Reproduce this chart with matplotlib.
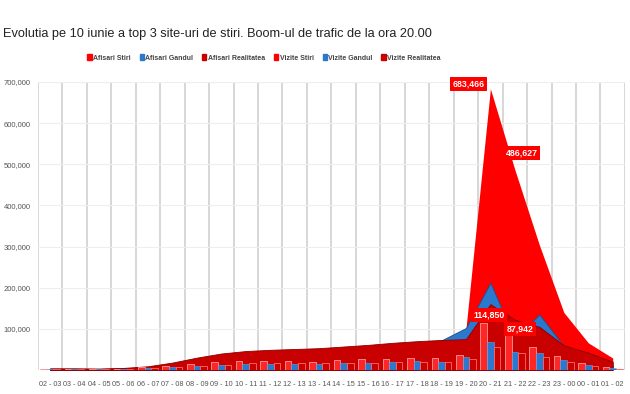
import matplotlib
matplotlib.use("Agg")
from matplotlib import pyplot as plt
from matplotlib.patches import Patch
import numpy as np

plt.rcParams['font.family'] = ['Liberation Sans', 'DejaVu Sans']

hours = ['02 - 03', '03 - 04', '04 - 05', '05 - 06', '06 - 07', '07 - 08', '08 - 09', '09 - 10',
         '10 - 11', '11 - 12', '12 - 13', '13 - 14', '14 - 15', '15 - 16', '16 - 17', '17 - 18',
         '18 - 19', '19 - 20', '20 - 21', '21 - 22', '22 - 23', '23 - 00', '00 - 01', '01 - 02']

# area series (afisari)
afisari_stiri = [3000, 3000, 2500, 4500, 8000, 16000, 27000, 37000, 43000, 46000, 48000, 50000,
                 54000, 58000, 62000, 66000, 70000, 100000, 683466, 486627, 304000, 140000, 66000, 29000]
afisari_gandul = [3000, 3000, 2500, 4000, 7000, 14000, 24000, 33000, 39000, 42000, 44000, 46000,
                  50000, 54000, 60000, 66000, 72000, 102000, 212000, 75000, 135000, 58000, 32000, 12000]
afisari_realitatea = [4000, 4000, 3500, 5000, 9000, 18000, 30000, 40000, 46000, 49000, 51000, 53000,
                      57000, 61000, 66000, 70000, 73000, 75000, 160000, 122000, 105000, 60000, 42000, 20000]

# bar series (vizite)
vizite_stiri = [3000, 2000, 2000, 3000, 6000, 9000, 15000, 19000, 21000, 23000, 23000, 20000,
                25000, 26000, 27000, 29000, 29000, 36000, 114850, 87942, 56000, 34000, 17000, 7000]
vizite_gandul = [2000, 2000, 2000, 3000, 5000, 7000, 10000, 13000, 15000, 15000, 14000, 15000,
                 17000, 18000, 19000, 21000, 20000, 32000, 68000, 44000, 41000, 24000, 12000, 5000]
vizite_realitatea = [2000, 2000, 2000, 2000, 4000, 7000, 10000, 13000, 16000, 17000, 17000, 18000,
                     18000, 18000, 19000, 20000, 20000, 27000, 56000, 41000, 32000, 19000, 10000, 3000]

red = '#ff0000'
blue = '#2b78cf'
dark = '#c80000'

fig = plt.figure(figsize=(6.3, 3.94), dpi=100)
ax = fig.add_axes([0.060, 0.061, 0.932, 0.731])

x = np.arange(len(hours))
ax.fill_between(x, 0, afisari_stiri, color=red, lw=0, zorder=2)
ax.fill_between(x, 0, afisari_gandul, facecolor=blue, edgecolor='#1f4f8a', lw=0.6, zorder=3)
ax.fill_between(x, 0, afisari_realitatea, facecolor=dark, edgecolor='#8a0000', lw=0.6, zorder=4)

w = 0.27
ax.bar(x - w, vizite_stiri, w, color='#ff2626', edgecolor='#ff9a9a', lw=0.6, zorder=5)
ax.bar(x, vizite_gandul, w, color=blue, edgecolor='#6aa4e0', lw=0.4, zorder=5)
ax.bar(x + w, vizite_realitatea, w, color=dark, edgecolor='#ff6a6a', lw=0.6, zorder=5)

# data labels
labels = [(17.12, 695000, '683,466'), (19.29, 527000, '486,627'),
          (17.94, 134000, '114,850'), (19.2, 100000, '87,942')]
for lx, ly, txt in labels:
    ax.text(lx, ly, txt, color='white', fontsize=6.3, fontweight='bold', ha='center', va='center',
            zorder=7, clip_on=False,
            bbox=dict(facecolor=red, edgecolor='none', pad=1.8))

ax.set_xlim(-0.5, len(hours) - 0.5)
ax.set_ylim(0, 700000)
ax.set_xticks(x)
ax.set_xticklabels(hours, fontsize=5.2, color='#555555')
ax.set_xticks(np.arange(-0.5, len(hours)), minor=True)
ax.set_yticks(np.arange(0, 700001, 100000))
ax.set_yticklabels(['' if v == 0 else f'{v:,}' for v in range(0, 700001, 100000)],
                   fontsize=5.5, color='#555555')
ax.tick_params(which='both', length=0, pad=5)
ax.tick_params(axis='x', pad=8)
ax.grid(True, which='minor', axis='x', color='#d4d4d4', lw=1.3, zorder=0)
ax.grid(True, which='major', axis='y', color='#eeeeee', lw=0.8, zorder=0)
ax.set_axisbelow(True)
for s in ax.spines.values():
    s.set_visible(False)

fig.text(0.005, 0.914, 'Evolutia pe 10 iunie a top 3 site-uri de stiri. Boom-ul de trafic de la ora 20.00',
         fontsize=9.2, color='#222222', ha='left', va='center')

handles = [Patch(color=red), Patch(color=blue), Patch(color=dark),
           Patch(color=red), Patch(color=blue), Patch(color=dark)]
names = ['Afisari Stiri', 'Afisari Gandul', 'Afisari Realitatea',
         'Vizite Stiri', 'Vizite Gandul', 'Vizite Realitatea']
leg = fig.legend(handles, names, loc='center', bbox_to_anchor=(264 / 630, 1 - 58 / 394), ncol=6,
                 frameon=False, fontsize=5, handlelength=0.6, handleheight=0.9,
                 handletextpad=0.2, columnspacing=1.3)
for t in leg.get_texts():
    t.set_fontweight('bold')
    t.set_color('#444444')

fig.savefig('out.png', dpi=100)
